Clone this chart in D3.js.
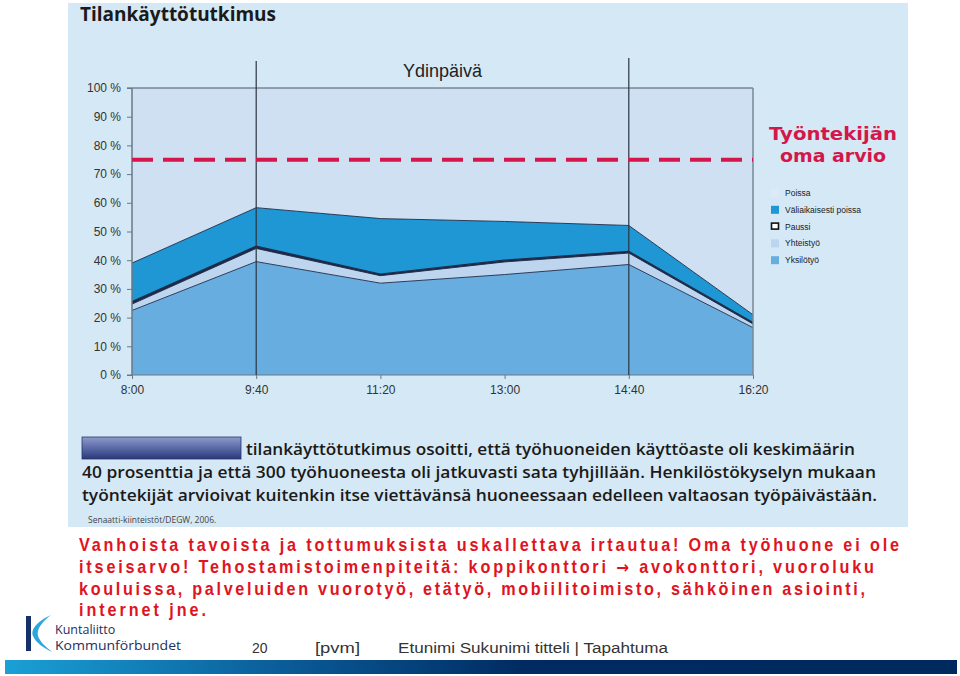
<!DOCTYPE html>
<html><head><meta charset="utf-8">
<script src="https://cdn.jsdelivr.net/npm/d3@7"></script>
<style>
html,body{margin:0;padding:0;background:#fff;}
svg{display:block;}
</style></head>
<body>
<svg id="c" width="960" height="676"></svg>
<script>
// ---- data ----
const times = ["8:00","9:40","11:20","13:00","14:40","16:20"];
const timeMinutes = [480, 580, 680, 780, 880, 980];
const yksilotyo = [22.5, 39.5, 32, 35, 38.5, 16.5];
const yhteistyo = [2.2, 4.6, 2.6, 4.4, 4.0, 1.3];
const paussi = [0.9, 0.8, 0.6, 0.6, 0.6, 0.5];
const valiaikaisestiPoissa = [13.4, 13.4, 19.3, 13.5, 9.0, 2.7];
const poissa = timeMinutes.map((_, i) => 100 - yksilotyo[i] - yhteistyo[i] - paussi[i] - valiaikaisestiPoissa[i]);
const yTicks = [0,10,20,30,40,50,60,70,80,90,100];
const employeeEstimate = 75;
const seriesNames = ["Yksilötyö","Yhteistyö","Paussi","Väliaikaisesti poissa","Poissa"];
const legendOrder = ["Poissa","Väliaikaisesti poissa","Paussi","Yhteistyö","Yksilötyö"];
const colors = {"Yksilötyö":"#68ade0","Yhteistyö":"#bed5ef","Paussi":"#1c2a48","Väliaikaisesti poissa":"#1f97d4","Poissa":"#cfe0f3"};

const svg = d3.select("#c");

// background panel
svg.append("rect").attr("x",68).attr("y",3).attr("width",840).attr("height",524).attr("fill","#d5e8f5");

svg.append("text").attr("x",80).attr("y",21).attr("font-family","Open Sans, sans-serif")
  .attr("font-weight",700).attr("font-size",19).attr("fill","#1a1a1a").text("Tilankäyttötutkimus");

const x = d3.scaleLinear().domain([480,980]).range([132,753]);
const y = d3.scaleLinear().domain([0,100]).range([375,88]);

const table = timeMinutes.map((t,i)=>({t, "Yksilötyö":yksilotyo[i], "Yhteistyö":yhteistyo[i], "Paussi":paussi[i], "Väliaikaisesti poissa":valiaikaisestiPoissa[i], "Poissa":poissa[i]}));
const stack = d3.stack().keys(seriesNames)(table);
const area = d3.area().x(d=>x(d.data.t)).y0(d=>y(d[0])).y1(d=>y(d[1]));
const g = svg.append("g");
g.selectAll("path.layer").data(stack).join("path").attr("class","layer")
  .attr("d",area).attr("fill",d=>colors[d.key]);
// top edges
const line = d3.line().x(d=>x(d.data.t)).y(d=>y(d[1]));
g.selectAll("path.edge").data(stack.slice(0,4)).join("path").attr("class","edge")
  .attr("d",line).attr("fill","none").attr("stroke","#1c2a48").attr("stroke-width",d=>d.key==="Paussi"?1.2:0.9);

// frame
svg.append("line").attr("x1",127).attr("x2",753).attr("y1",y(100)).attr("y2",y(100)).attr("stroke","#4a5866").attr("stroke-width",1);
svg.append("line").attr("x1",753).attr("x2",753).attr("y1",y(100)).attr("y2",y(0)).attr("stroke","#7a8896").attr("stroke-width",1.5);
svg.append("line").attr("x1",132).attr("x2",132).attr("y1",y(100)).attr("y2",y(0)).attr("stroke","#6a7886").attr("stroke-width",1.5);
svg.append("line").attr("x1",127).attr("x2",753).attr("y1",y(0)).attr("y2",y(0)).attr("stroke","#6a7886").attr("stroke-width",1.2);

// core-day lines
[580,880].forEach((t,i)=>{
  svg.append("line").attr("x1",x(t)).attr("x2",x(t)).attr("y1",i?58:61).attr("y2",y(0)).attr("stroke","#2a3440").attr("stroke-width",1.2);
});
svg.append("text").attr("x",(x(580)+x(880))/2).attr("y",77).attr("text-anchor","middle")
  .attr("font-family","Liberation Sans, Arial, sans-serif").attr("font-size",18).attr("fill","#222").text("Ydinpäivä");

// y axis
const yAxis = d3.axisLeft(y).tickValues(yTicks).tickFormat(d=>d+" %").tickSize(5).tickPadding(6);
const ya = svg.append("g").attr("transform","translate(132,0)").call(yAxis);
ya.select(".domain").remove();
ya.selectAll(".tick line").attr("stroke","#6a7886");
ya.selectAll(".tick text").attr("font-family","Liberation Sans, Arial, sans-serif").attr("font-size",12).attr("fill","#333");

// x axis
const xAxis = d3.axisBottom(x).tickValues(timeMinutes).tickFormat((d,i)=>times[i]).tickSize(4).tickPadding(6);
const xa = svg.append("g").attr("transform","translate(0,375)").call(xAxis);
xa.select(".domain").remove();
xa.selectAll(".tick line").attr("stroke","#6a7886");
xa.selectAll(".tick text").attr("font-family","Liberation Sans, Arial, sans-serif").attr("font-size",12).attr("fill","#333");

// estimate line
svg.append("line").attr("x1",132).attr("x2",753).attr("y1",y(employeeEstimate)).attr("y2",y(employeeEstimate))
  .attr("stroke","#d4164a").attr("stroke-width",4).attr("stroke-dasharray","21,10");
const rt = svg.append("text").attr("font-family","DejaVu Sans, sans-serif").attr("font-weight",700).attr("font-size",18).attr("fill","#d4164a").attr("text-anchor","middle");
rt.append("tspan").attr("x",833).attr("y",140).attr("textLength",128).attr("lengthAdjust","spacingAndGlyphs").text("Työntekijän");
rt.append("tspan").attr("x",833).attr("y",162).attr("textLength",106).attr("lengthAdjust","spacingAndGlyphs").text("oma arvio");

// legend
const lg = svg.append("g");
legendOrder.forEach((k,i)=>{
  const yy = 193 + i*16.8;
  if(k==="Paussi"){
    lg.append("rect").attr("x",771.5).attr("y",yy-3.5).attr("width",7).attr("height",6).attr("fill","#fff").attr("stroke","#111").attr("stroke-width",1.6);
  } else {
    lg.append("rect").attr("x",771).attr("y",yy-4).attr("width",8).attr("height",8).attr("fill",k==="Poissa"?"#dde9f6":colors[k]);
  }
  lg.append("text").attr("x",785).attr("y",yy+3).attr("font-family","Liberation Sans, Arial, sans-serif").attr("font-size",8.5).attr("fill","#222").text(k);
});

// caption box
const defs = svg.append("defs");
const gr = defs.append("linearGradient").attr("id","boxg").attr("x1",0).attr("x2",0).attr("y1",0).attr("y2",1);
gr.append("stop").attr("offset","0").attr("stop-color","#8e9ac8");
gr.append("stop").attr("offset","0.5").attr("stop-color","#5a6aa8");
gr.append("stop").attr("offset","1").attr("stop-color","#2c3878");
svg.append("rect").attr("x",82).attr("y",437).attr("width",159).attr("height",22).attr("fill","url(#boxg)").attr("stroke","#2a3470").attr("stroke-width",0.8);

const capFont = "Open Sans, sans-serif";
const caps = [
  {x:246,y:455,w:609,t:"tilankäyttötutkimus osoitti, että työhuoneiden käyttöaste oli keskimäärin"},
  {x:82,y:478,w:794,t:"40 prosenttia ja että 300 työhuoneesta oli jatkuvasti sata tyhjillään. Henkilöstökyselyn mukaan"},
  {x:82,y:501,w:795,t:"työntekijät arvioivat kuitenkin itse viettävänsä huoneessaan edelleen valtaosan työpäivästään."}
];
caps.forEach(c=>svg.append("text").attr("x",c.x).attr("y",c.y).attr("font-family",capFont).attr("font-weight",600)
  .attr("font-size",15.5).attr("fill","#1a1a1a").attr("textLength",c.w).attr("lengthAdjust","spacingAndGlyphs").text(c.t));
svg.append("text").attr("x",88).attr("y",523).attr("font-family",capFont).attr("font-size",8.5).attr("fill","#444").text("Senaatti-kiinteistöt/DEGW, 2006.");

// red text: narrow glyphs with letter spacing
const sx = 0.9;
const red = [
  {y:551,w:820,parts:["Vanhoista tavoista ja tottumuksista uskallettava irtautua! Oma työhuone ei ole"]},
  {y:573,w:795,parts:["itseisarvo! Tehostamistoimenpiteitä: koppikonttori ","\u2192"," avokonttori, vuoroluku"]},
  {y:595,w:786,parts:["kouluissa, palveluiden vuorotyö, etätyö, mobiilitoimisto, sähköinen asiointi,"]},
  {y:616,w:127,parts:["internet jne."]}
];
red.forEach(r=>{
  const t = svg.append("text").attr("transform",`translate(79,${r.y}) scale(${sx},1)`).attr("x",0).attr("y",0)
    .attr("font-family","Liberation Sans, Arial, sans-serif")
    .attr("font-weight",700).attr("font-size",18).attr("fill","#e0141e").attr("textLength",r.w/sx).attr("lengthAdjust","spacing");
  r.parts.forEach(p=>{
    const ts = t.append("tspan").text(p);
    if(p==="\u2192") ts.attr("font-family","DejaVu Sans, sans-serif").attr("font-size",17);
  });
});

// logo
svg.append("rect").attr("x",26).attr("y",616).attr("width",5).attr("height",35).attr("fill","#15306a");
svg.append("path").attr("d","M51,615 C40,620 30,628 33,636 C36,643 44,648 52,652 C46,647 40,642 38,636 C36,629 43,621 51,615 Z").attr("fill","#2aa7dc");
const lt = svg.append("text").attr("font-family","Open Sans, sans-serif").attr("font-size",12.5).attr("fill","#1e2f5e");
lt.append("tspan").attr("x",55).attr("y",634).text("Kuntaliitto");
lt.append("tspan").attr("x",55).attr("y",650).attr("textLength",126).attr("lengthAdjust","spacingAndGlyphs").text("Kommunförbundet");

// footer
const ff = "Liberation Sans, Arial, sans-serif";
svg.append("text").attr("x",252).attr("y",653).attr("font-family",ff).attr("font-size",14).attr("fill","#333").text("20");
svg.append("text").attr("x",315).attr("y",653).attr("font-family",ff).attr("font-size",14).attr("fill","#333").attr("textLength",45).attr("lengthAdjust","spacingAndGlyphs").text("[pvm]");
svg.append("text").attr("x",398).attr("y",653).attr("font-family",ff).attr("font-size",14).attr("fill","#333").attr("textLength",270).attr("lengthAdjust","spacingAndGlyphs").text("Etunimi Sukunimi titteli | Tapahtuma");

const bg = defs.append("linearGradient").attr("id","barg").attr("x1",0).attr("x2",1).attr("y1",0).attr("y2",0);
bg.append("stop").attr("offset","0").attr("stop-color","#1aa0d6");
bg.append("stop").attr("offset","0.3").attr("stop-color","#0a5a96");
bg.append("stop").attr("offset","0.55").attr("stop-color","#002a60");
bg.append("stop").attr("offset","1").attr("stop-color","#002a5e");
svg.append("rect").attr("x",5).attr("y",660).attr("width",952).attr("height",14).attr("fill","url(#barg)");
</script>
</body></html>
